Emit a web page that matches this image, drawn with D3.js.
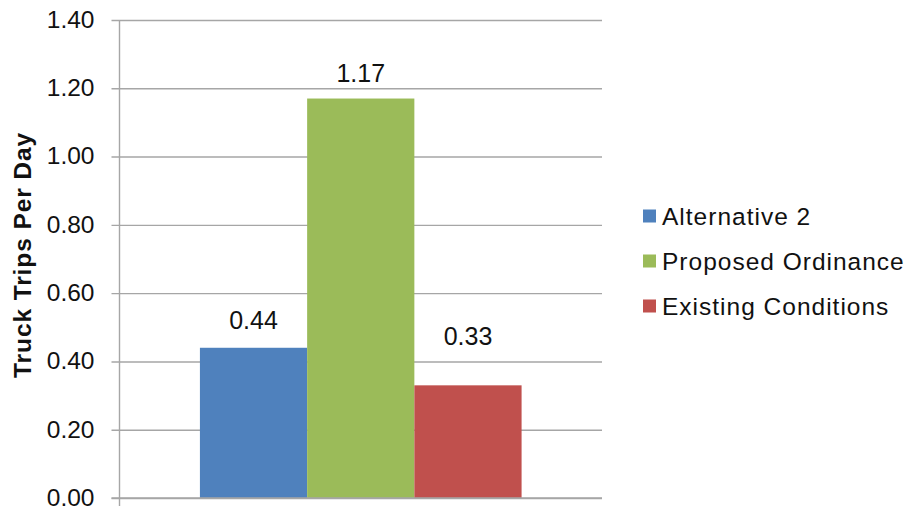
<!DOCTYPE html>
<html>
<head>
<meta charset="utf-8">
<script src="https://cdn.jsdelivr.net/npm/d3@7"></script>
<style>
  html, body { margin: 0; padding: 0; background: #fff; }
  svg { display: block; font-family: "Liberation Sans", Arial, sans-serif; }
</style>
</head>
<body>
<svg id="chart" width="909" height="508"></svg>
<script>
// Series shown in the chart (single category cluster)
const seriesNames = ["Alternative 2", "Proposed Ordinance", "Existing Conditions"];
const seriesValues = [0.44, 1.17, 0.33];
const seriesColors = ["#4f81bd", "#9bbb59", "#c0504d"];
const yTicks = [0, 0.2, 0.4, 0.6, 0.8, 1.0, 1.2, 1.4];
const yTitle = "Truck Trips Per Day";

const svg = d3.select("#chart");
const plot = { left: 119.5, right: 602, top: 20, bottom: 498 };

const y = d3.scaleLinear().domain([0, 1.4]).range([plot.bottom, plot.top]);

// One category; bars take 1/4.5 of the plot width each (150% gap)
const x = d3.scaleBand()
  .domain(seriesNames)
  .range([plot.left + (plot.right - plot.left) * 0.75 / 4.5,
          plot.right - (plot.right - plot.left) * 0.75 / 4.5])
  .padding(0);

// Gridlines and tick labels
const yAxis = d3.axisLeft(y)
  .tickValues(yTicks)
  .tickFormat(d3.format(".2f"))
  .tickSize(plot.right - plot.left + 8)
  .tickPadding(0);

const gAxis = svg.append("g")
  .attr("transform", `translate(${plot.right},0)`);
gAxis.call(yAxis);
gAxis.select(".domain").remove();
gAxis.selectAll(".tick line")
  .attr("stroke", "#a6a6a6")
  .attr("stroke-width", 1.4);
gAxis.selectAll(".tick text")
  .attr("x", -(plot.right - plot.left) - 25)
  .attr("fill", "#111")
  .attr("font-size", 24.5)
  .attr("dy", "0.3em");

// Vertical axis line (extends slightly below the baseline as the category tick)
svg.append("line")
  .attr("x1", plot.left).attr("x2", plot.left)
  .attr("y1", plot.top).attr("y2", plot.bottom + 8)
  .attr("stroke", "#a6a6a6").attr("stroke-width", 1.4);

// Bars
svg.append("g").selectAll("rect")
  .data(seriesNames)
  .join("rect")
  .attr("x", d => x(d))
  .attr("width", x.bandwidth())
  .attr("y", (d, i) => y(seriesValues[i]))
  .attr("height", (d, i) => y(0) - y(seriesValues[i]))
  .attr("fill", (d, i) => seriesColors[i]);

// Redraw baseline over the bars
svg.append("line")
  .attr("x1", plot.left - 8).attr("x2", plot.right)
  .attr("y1", y(0)).attr("y2", y(0))
  .attr("stroke", "#a6a6a6").attr("stroke-width", 1.4);

// Value labels, lifted above each bar
const labelLift = [18.5, 16.5, 40.5];
svg.append("g").selectAll("text")
  .data(seriesNames)
  .join("text")
  .attr("x", d => x(d) + x.bandwidth() / 2)
  .attr("y", (d, i) => y(seriesValues[i]) - labelLift[i])
  .attr("text-anchor", "middle")
  .attr("font-size", 25)
  .attr("fill", "#111")
  .text((d, i) => d3.format(".2f")(seriesValues[i]));

// Y axis title
svg.append("text")
  .attr("transform", `translate(31,${255}) rotate(-90)`)
  .attr("text-anchor", "middle")
  .attr("font-size", 24.5)
  .attr("font-weight", "bold")
  .attr("letter-spacing", 0.9)
  .attr("fill", "#111")
  .text(yTitle);

// Legend
const legend = svg.append("g").attr("transform", "translate(643,216)");
const items = legend.selectAll("g")
  .data(seriesNames)
  .join("g")
  .attr("transform", (d, i) => `translate(0,${i * 45})`);
items.append("rect")
  .attr("x", 0).attr("y", -6.5)
  .attr("width", 13).attr("height", 13)
  .attr("fill", (d, i) => seriesColors[i]);
items.append("text")
  .attr("x", 19)
  .attr("y", 0)
  .attr("dy", "0.36em")
  .attr("font-size", 24.5)
  .attr("letter-spacing", 1.0)
  .attr("fill", "#111")
  .text(d => d);
</script>
</body>
</html>
